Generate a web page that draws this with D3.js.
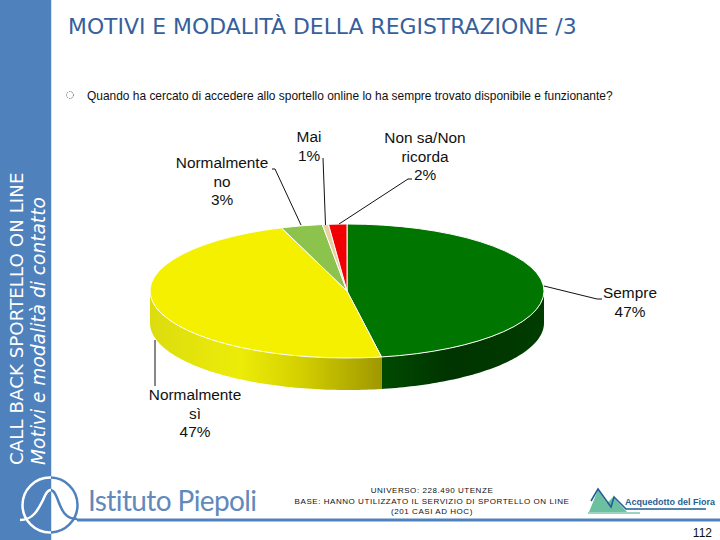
<!DOCTYPE html>
<html>
<head>
<meta charset="utf-8">
<script src="https://cdn.jsdelivr.net/npm/d3@7"></script>
<style>
body { margin: 0; background: #fff; }
svg { display: block; }
text { font-family: "Liberation Sans", sans-serif; }
</style>
</head>
<body>
<div id="chart"></div>
<script>
// chart values
var categories = ["Sempre", "Normalmente sì", "Normalmente no", "Mai", "Non sa/Non ricorda"];
var sliceValues = [47.2, 47.4, 3.4, 0.5, 1.5];
var sliceColors = ["#007500", "#f5f000", "#8cc34c", "#e8d0a0", "#f00000"];

// printed labels, one row per category
var labelLines = [
    ["Sempre", "47%"],
    ["Normalmente", "sì", "47%"],
    ["Normalmente", "no", "3%"],
    ["Mai", "1%"],
    ["Non sa/Non", "ricorda", "2%"]
];

// label placement and leader lines
var labelX = [630, 195, 222, 309, 425];
var labelY = [298, 400, 168, 142, 143];
var leaders = [
    [[544, 286], [597, 299], [602, 299]],
    [[155, 340], [155, 386]],
    [[272, 169], [275, 169], [301, 225]],
    [[323, 158], [325.5, 225]],
    [[412, 179], [408, 179], [339, 224]]
];

var width = 720, height = 540;
var cx = 347, cy = 291, rx = 197, ry = 67, depth = 32;
var blue = "#4f81bd";

var svg = d3.select("#chart").append("svg")
    .attr("width", width)
    .attr("height", height);

var defs = svg.append("defs");

// scales for the squashed pie
var x = d3.scaleLinear().domain([-1, 1]).range([cx - rx, cx + rx]);
var y = d3.scaleLinear().domain([-1, 1]).range([cy - ry, cy + ry]);

// wall shading
function wallGradient(id, stops) {
    var g = defs.append("linearGradient")
        .attr("id", id)
        .attr("gradientUnits", "userSpaceOnUse")
        .attr("x1", stops[0][0]).attr("x2", stops[stops.length - 1][0])
        .attr("y1", 0).attr("y2", 0);
    var span = stops[stops.length - 1][0] - stops[0][0];
    stops.forEach(s => {
        g.append("stop")
            .attr("offset", (s[0] - stops[0][0]) / span)
            .attr("stop-color", s[1]);
    });
}
wallGradient("wall0", [[381, "#004a00"], [450, "#003400"], [544, "#003c00"]]);
wallGradient("wall1", [[150, "#dcdc10"], [240, "#ecec08"], [300, "#d4d000"], [381, "#a09800"]]);

defs.append("clipPath").attr("id", "onBand")
    .append("rect").attr("width", 51).attr("height", height);
defs.append("clipPath").attr("id", "offBand")
    .append("rect").attr("x", 51).attr("width", width).attr("height", height);

// left band
svg.append("rect")
    .attr("width", 51).attr("height", height)
    .attr("fill", blue);
svg.append("rect")
    .attr("x", 51).attr("width", 1).attr("height", height)
    .attr("fill", "#d6e4f2");

svg.append("text")
    .attr("transform", "translate(23,465) rotate(-90)")
    .attr("fill", "#fff")
    .style("font-family", "DejaVu Sans")
    .style("font-size", "18.3px")
    .text("CALL BACK SPORTELLO ON LINE");
svg.append("text")
    .attr("transform", "translate(45,465) rotate(-90)")
    .attr("fill", "#fff")
    .style("font-family", "DejaVu Sans")
    .style("font-style", "italic")
    .style("font-size", "18.6px")
    .text("Motivi e modalità di contatto");

// title and question
svg.append("text")
    .attr("x", 68).attr("y", 34)
    .attr("fill", "#36609c")
    .style("font-family", "DejaVu Sans")
    .style("font-size", "21.9px")
    .text("MOTIVI E MODALITÀ DELLA REGISTRAZIONE /3");

svg.append("circle")
    .attr("cx", 70).attr("cy", 95).attr("r", 3.5)
    .attr("fill", "none").attr("stroke", "#777")
    .attr("stroke-dasharray", "1.5 1");

svg.append("text")
    .attr("x", 87).attr("y", 100)
    .attr("fill", "#111")
    .style("font-size", "11.95px")
    .text("Quando ha cercato di accedere allo sportello online lo ha sempre trovato disponibile e funzionante?");

// pie
var pie = d3.pie().sort(null).value(d => d)(sliceValues);

var chart = svg.append("g");

// visible front walls, green and yellow only
pie.slice(0, 2).forEach((p, i) => {
    var a0 = Math.max(p.startAngle, Math.PI / 2);
    var a1 = Math.min(p.endAngle, Math.PI * 1.5);
    var steps = d3.range(a0, a1, 0.02).concat([a1]);
    var upper = steps.map(a => [x(Math.sin(a)), y(-Math.cos(a))]);
    var lower = steps.slice().reverse().map(a => [x(Math.sin(a)), y(-Math.cos(a)) + depth]);
    chart.append("path")
        .attr("d", d3.line()(upper.concat(lower)) + "Z")
        .attr("fill", "url(#wall" + i + ")");
});

var arc = d3.arc().innerRadius(0).outerRadius(rx);

chart.append("g")
    .attr("transform", `translate(${cx},${cy}) scale(1,${ry / rx})`)
    .selectAll("path")
    .data(pie)
    .enter().append("path")
    .attr("d", arc)
    .attr("fill", (d, i) => sliceColors[i])
    .attr("stroke", "#fff")
    .attr("stroke-width", 1)
    .attr("vector-effect", "non-scaling-stroke");

// leaders
svg.selectAll("path.leader")
    .data(leaders)
    .enter().append("path")
    .attr("class", "leader")
    .attr("d", d3.line())
    .attr("fill", "none")
    .attr("stroke", "#111")
    .attr("stroke-width", 1);

// labels
labelLines.forEach((lines, i) => {
    var t = svg.append("text")
        .attr("text-anchor", "middle")
        .attr("fill", "#111")
        .style("font-size", "15.4px");
    lines.forEach((line, j) => {
        t.append("tspan")
            .attr("x", labelX[i])
            .attr("y", labelY[i] + j * 18.5)
            .text(line);
    });
});

// footer
svg.append("path")
    .attr("d", "M77 520H720")
    .attr("stroke", blue)
    .attr("stroke-width", 3);

var logoCurve = "M20 520 C33 520 38 510 43 500 C47 490 50 488 54 492 C60 500 60 519 77 519";
var logo = svg.append("g");
[["onBand", "#fff"], ["offBand", blue]].forEach(c => {
    var g = logo.append("g").attr("clip-path", "url(#" + c[0] + ")");
    g.append("circle")
        .attr("cx", 50).attr("cy", 505).attr("r", 27.5)
        .attr("fill", "none").attr("stroke", c[1]).attr("stroke-width", 2.5);
    g.append("path")
        .attr("d", logoCurve)
        .attr("fill", "none").attr("stroke", c[1]).attr("stroke-width", 2.5);
});

svg.append("text")
    .attr("x", 88).attr("y", 511)
    .attr("fill", "#5f8abb")
    .style("font-family", "Lato")
    .style("font-size", "28px")
    .style("letter-spacing", "-0.6px")
    .text("Istituto Piepoli");

var footerLines = ["UNIVERSO: 228.490 UTENZE", "BASE: HANNO UTILIZZATO IL SERVIZIO DI SPORTELLO ON LINE", "(201 CASI AD HOC)"];
svg.selectAll("text.base")
    .data(footerLines)
    .enter().append("text")
    .attr("class", "base")
    .attr("x", 432)
    .attr("y", (d, i) => 493 + i * 10.5)
    .attr("text-anchor", "middle")
    .attr("fill", "#111")
    .style("font-size", "8px")
    .style("letter-spacing", "0.55px")
    .text(d => d);

// Acquedotto del Fiora logo
var mark = svg.append("g");
mark.append("path")
    .attr("d", "M589 512 L598 490 L607 503 L613 497 L627 512 Z")
    .attr("fill", "#6cc0a0");
mark.append("path")
    .attr("d", "M591 501 L598 489 L611 507 L614 497 L626 509 L706 509")
    .attr("fill", "none").attr("stroke", "#1f5f94").attr("stroke-width", 1.6);
mark.append("path")
    .attr("d", "M588 513H640")
    .attr("stroke", "#7cc4aa").attr("stroke-width", 1.5);
svg.append("text")
    .attr("x", 625).attr("y", 505)
    .attr("fill", "#1f5f94")
    .style("font-size", "9px")
    .style("font-weight", "bold")
    .text("Acquedotto del Fiora");

svg.append("text")
    .attr("x", 712).attr("y", 537)
    .attr("text-anchor", "end")
    .attr("fill", "#111")
    .style("font-size", "12px")
    .text("112");
</script>
</body>
</html>
